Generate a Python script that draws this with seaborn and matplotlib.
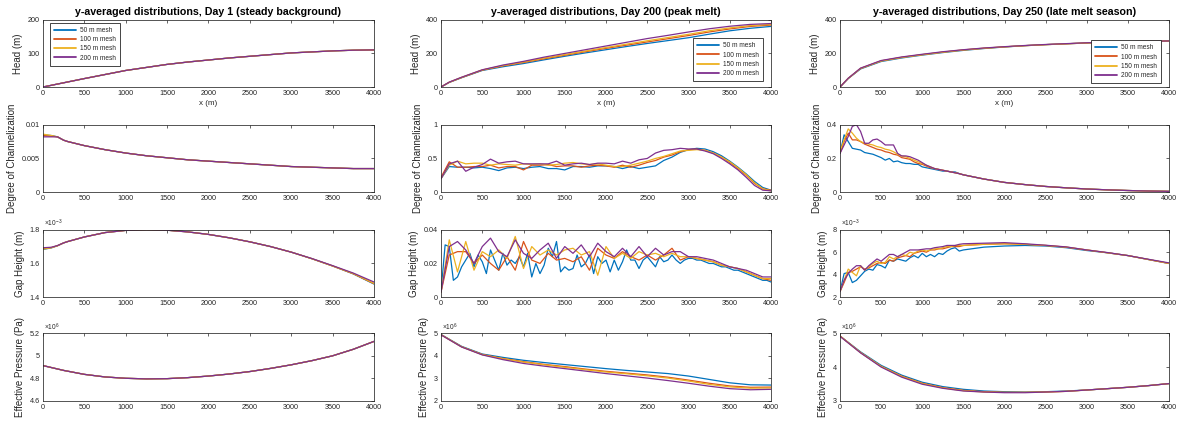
import numpy as np
import matplotlib
matplotlib.use("Agg")
import matplotlib.pyplot as plt
from matplotlib.ticker import FuncFormatter
from matplotlib.lines import Line2D
import seaborn as sns

# ---------------------------------------------------------------- data
MESH_LABELS = ["50 m mesh", "100 m mesh", "150 m mesh", "200 m mesh"]
COLORS = ["#0072BD", "#D95319", "#EDB120", "#7E2F8E"]
TITLES = ["y-averaged distributions, Day 1 (steady background)",
          "y-averaged distributions, Day 200 (peak melt)",
          "y-averaged distributions, Day 250 (late melt season)"]
YLABELS = ["Head (m)", "Degree of Channelization", "Gap Height (m)",
           "Effective Pressure (Pa)"]
XTICKS = [0, 500, 1000, 1500, 2000, 2500, 3000, 3500, 4000]

# sample positions along flow (m)
X_250 = [0, 250, 500, 750, 1000, 1250, 1500, 1750, 2000, 2250, 2500, 2750,
         3000, 3250, 3500, 3750, 4000]
X_HEAD = [0, 100, 250, 500, 750, 1000, 1250, 1500, 1750, 2000, 2250, 2500,
          2750, 3000, 3250, 3500, 3750, 4000]
X_FINE1 = [0, 100, 175, 250, 300, 500, 750, 1000, 1250, 1500, 1750, 2000,
           2250, 2500, 2750, 3000, 3250, 3500, 3750, 4000]
X_100 = np.arange(0, 4001, 100)
X_50 = np.arange(0, 4001, 50)
X_D250 = np.concatenate([np.arange(0, 1500, 50), np.arange(1500, 4001, 250)])

# Day 1 -------------------------------------------------------------
head_d1 = [0, 12.5, 25, 37, 49, 58, 67, 74, 80, 86, 91, 96, 101, 104, 107, 109, 110]

chan_d1_50 = [0.0085, 0.0084, 0.0082, 0.0077, 0.0075, 0.0069, 0.0063, 0.0058, 0.0054,
              0.0051, 0.0048, 0.0046, 0.0044, 0.0042, 0.0040, 0.0038, 0.0037, 0.0036,
              0.0035, 0.0035]
chan_d1_100 = [0.0084, 0.0083, 0.0082, 0.0077, 0.0075, 0.0069, 0.0063, 0.0058, 0.0054,
               0.0051, 0.0048, 0.0046, 0.0044, 0.0042, 0.0040, 0.0038, 0.0037, 0.0036,
               0.0035, 0.0035]
chan_d1_150 = [0.0086, 0.0084, 0.0082, 0.0077, 0.0075, 0.0069, 0.0063, 0.0058, 0.0054,
               0.0051, 0.0048, 0.0046, 0.0044, 0.0042, 0.0040, 0.0038, 0.0037, 0.0036,
               0.0035, 0.0035]
chan_d1_200 = [0.0082, 0.0082, 0.0082, 0.0077, 0.0075, 0.0069, 0.0063, 0.0058, 0.0054,
               0.0051, 0.0048, 0.0046, 0.0044, 0.0042, 0.0040, 0.0038, 0.0037, 0.0036,
               0.0035, 0.0035]

gap_d1_50 = [1.683e-3, 1.692e-3, 1.705e-3, 1.722e-3, 1.730e-3, 1.757e-3, 1.783e-3,
             1.796e-3, 1.800e-3, 1.797e-3, 1.787e-3, 1.772e-3, 1.752e-3, 1.728e-3,
             1.700e-3, 1.667e-3, 1.628e-3, 1.585e-3, 1.538e-3, 1.478e-3]
gap_d1_100 = [1.688e-3, 1.694e-3, 1.705e-3, 1.722e-3, 1.730e-3, 1.757e-3, 1.783e-3,
              1.796e-3, 1.800e-3, 1.797e-3, 1.787e-3, 1.772e-3, 1.752e-3, 1.728e-3,
              1.700e-3, 1.667e-3, 1.628e-3, 1.585e-3, 1.539e-3, 1.480e-3]
gap_d1_150 = [1.685e-3, 1.693e-3, 1.705e-3, 1.722e-3, 1.730e-3, 1.757e-3, 1.783e-3,
              1.796e-3, 1.800e-3, 1.797e-3, 1.787e-3, 1.772e-3, 1.752e-3, 1.728e-3,
              1.700e-3, 1.667e-3, 1.628e-3, 1.585e-3, 1.540e-3, 1.482e-3]
gap_d1_200 = [1.693e-3, 1.696e-3, 1.706e-3, 1.722e-3, 1.730e-3, 1.757e-3, 1.783e-3,
              1.796e-3, 1.800e-3, 1.797e-3, 1.787e-3, 1.772e-3, 1.752e-3, 1.728e-3,
              1.700e-3, 1.667e-3, 1.629e-3, 1.587e-3, 1.543e-3, 1.490e-3]

eff_d1 = [4.913e6, 4.870e6, 4.835e6, 4.812e6, 4.800e6, 4.795e6, 4.797e6, 4.806e6,
          4.820e6, 4.838e6, 4.860e6, 4.888e6, 4.920e6, 4.957e6, 5.000e6, 5.058e6,
          5.128e6]

# Day 200 -----------------------------------------------------------
head_d200_50 = [0, 27, 55, 98, 120, 139, 161, 182, 202, 221, 240, 258, 275, 292, 313, 333, 348, 359]
head_d200_100 = [0, 28, 56, 100, 125, 145, 167, 188, 209, 229, 248, 267, 286, 305, 326, 344, 359, 367]
head_d200_150 = [0, 28, 57, 101, 127, 148, 171, 192, 213, 234, 254, 274, 293, 312, 333, 350, 364, 371]
head_d200_200 = [0, 29, 58, 102, 130, 152, 177, 199, 221, 243, 265, 287, 306, 326, 345, 360, 371, 376]

chan_d200_50 = [0.20, 0.38, 0.37, 0.37, 0.36, 0.37, 0.35, 0.32, 0.36, 0.37,
                0.35, 0.37, 0.38, 0.35, 0.35, 0.33, 0.38, 0.38, 0.37, 0.39,
                0.39, 0.38, 0.35, 0.38, 0.35, 0.37, 0.39, 0.47, 0.52, 0.59,
                0.63, 0.65, 0.64, 0.60, 0.54, 0.46, 0.37, 0.27, 0.16, 0.07,
                0.03]
chan_d200_100 = [0.22, 0.45, 0.37, 0.37, 0.38, 0.38, 0.40, 0.36, 0.38, 0.38,
                 0.33, 0.40, 0.40, 0.41, 0.38, 0.39, 0.39, 0.37, 0.39, 0.40,
                 0.39, 0.37, 0.40, 0.37, 0.40, 0.44, 0.47, 0.52, 0.55, 0.60,
                 0.63, 0.64, 0.62, 0.58, 0.52, 0.44, 0.35, 0.25, 0.13, 0.05,
                 0.03]
chan_d200_150 = [0.20, 0.40, 0.46, 0.42, 0.43, 0.43, 0.40, 0.42, 0.41, 0.40,
                 0.42, 0.41, 0.42, 0.40, 0.41, 0.43, 0.44, 0.42, 0.41, 0.42,
                 0.40, 0.38, 0.38, 0.40, 0.43, 0.46, 0.50, 0.53, 0.57, 0.61,
                 0.62, 0.63, 0.62, 0.58, 0.52, 0.45, 0.36, 0.26, 0.14, 0.05,
                 0.02]
chan_d200_200 = [0.20, 0.42, 0.46, 0.31, 0.37, 0.41, 0.49, 0.43, 0.45, 0.46,
                 0.42, 0.42, 0.42, 0.42, 0.46, 0.40, 0.42, 0.43, 0.41, 0.43,
                 0.43, 0.42, 0.46, 0.43, 0.48, 0.50, 0.58, 0.62, 0.63, 0.65,
                 0.64, 0.64, 0.61, 0.57, 0.50, 0.42, 0.33, 0.22, 0.10, 0.03,
                 0.02]

gap_d200_50 = [0.003, 0.031, 0.030, 0.010, 0.012, 0.018, 0.022, 0.026, 0.018, 0.025,
               0.021, 0.014, 0.028, 0.022, 0.016, 0.026, 0.019, 0.022, 0.020, 0.024,
               0.018, 0.026, 0.012, 0.020, 0.014, 0.019, 0.029, 0.024, 0.033, 0.015,
               0.018, 0.016, 0.017, 0.025, 0.018, 0.020, 0.025, 0.014, 0.024, 0.020,
               0.022, 0.015, 0.022, 0.016, 0.021, 0.028, 0.022, 0.022, 0.017, 0.022,
               0.024, 0.021, 0.018, 0.024, 0.021, 0.022, 0.025, 0.022, 0.020, 0.022,
               0.023, 0.023, 0.022, 0.022, 0.021, 0.020, 0.020, 0.019, 0.018, 0.018,
               0.017, 0.016, 0.016, 0.015, 0.014, 0.013, 0.012, 0.011, 0.010, 0.010,
               0.009]
gap_d200_100 = [0.003, 0.025, 0.027, 0.027, 0.020, 0.025, 0.020, 0.016, 0.024, 0.016,
                0.033, 0.022, 0.020, 0.026, 0.022, 0.023, 0.021, 0.024, 0.016, 0.029,
                0.025, 0.023, 0.027, 0.024, 0.022, 0.025, 0.022, 0.025, 0.029, 0.022,
                0.024, 0.023, 0.022, 0.021, 0.019, 0.018, 0.017, 0.015, 0.013, 0.011,
                0.010]
gap_d200_150 = [0.003, 0.034, 0.015, 0.033, 0.016, 0.027, 0.024, 0.028, 0.023, 0.036,
                0.017, 0.030, 0.025, 0.028, 0.025, 0.028, 0.029, 0.025, 0.027, 0.013,
                0.030, 0.023, 0.026, 0.023, 0.027, 0.025, 0.026, 0.024, 0.026, 0.024,
                0.024, 0.023, 0.022, 0.021, 0.019, 0.018, 0.017, 0.015, 0.013, 0.011,
                0.011]
gap_d200_200 = [0.003, 0.030, 0.033, 0.028, 0.020, 0.030, 0.035, 0.027, 0.024, 0.034,
                0.026, 0.023, 0.028, 0.032, 0.023, 0.030, 0.026, 0.031, 0.024, 0.032,
                0.027, 0.024, 0.029, 0.024, 0.030, 0.024, 0.029, 0.025, 0.027, 0.027,
                0.024, 0.024, 0.023, 0.022, 0.020, 0.018, 0.017, 0.016, 0.014, 0.012,
                0.012]

eff_d200_50 = [4.95e6, 4.42e6, 4.08e6, 3.93e6, 3.80e6, 3.70e6, 3.61e6, 3.52e6, 3.43e6,
               3.35e6, 3.28e6, 3.21e6, 3.10e6, 2.95e6, 2.80e6, 2.71e6, 2.70e6]
eff_d200_100 = [4.94e6, 4.40e6, 4.06e6, 3.88e6, 3.74e6, 3.62e6, 3.52e6, 3.41e6, 3.31e6,
                3.23e6, 3.15e6, 3.05e6, 2.92e6, 2.78e6, 2.66e6, 2.60e6, 2.61e6]
eff_d200_150 = [4.94e6, 4.40e6, 4.05e6, 3.87e6, 3.72e6, 3.60e6, 3.49e6, 3.38e6, 3.28e6,
                3.20e6, 3.11e6, 3.01e6, 2.88e6, 2.73e6, 2.62e6, 2.56e6, 2.57e6]
eff_d200_200 = [4.93e6, 4.39e6, 4.04e6, 3.83e6, 3.66e6, 3.54e6, 3.43e6, 3.32e6, 3.21e6,
                3.11e6, 3.01e6, 2.90e6, 2.78e6, 2.65e6, 2.54e6, 2.49e6, 2.51e6]

# Day 250 -----------------------------------------------------------
head_d250_50 = [0, 50, 107, 151, 172, 189, 204, 217, 228, 237, 245, 251, 256, 261, 265, 268, 271, 273]
head_d250_100 = [0, 51, 110, 155, 176, 192, 207, 220, 230, 238, 245, 251, 256, 261, 265, 268, 271, 273]
head_d250_150 = [0, 51, 110, 154, 175, 191, 206, 219, 229, 238, 245, 251, 256, 261, 265, 268, 271, 273]
head_d250_200 = [0, 52, 112, 157, 178, 194, 209, 221, 231, 239, 246, 252, 257, 262, 266, 269, 271, 273]

chan_d250_50 = [0.23, 0.34, 0.30, 0.26, 0.255, 0.25, 0.235, 0.23, 0.225, 0.215,
                0.205, 0.19, 0.20, 0.18, 0.185, 0.175, 0.17, 0.17, 0.165, 0.165,
                0.15, 0.145, 0.14, 0.135, 0.13, 0.125, 0.125, 0.12, 0.12, 0.11,
                0.103, 0.078, 0.058, 0.045, 0.034, 0.026, 0.019, 0.014, 0.010, 0.007, 0.005]
chan_d250_100 = [0.23, 0.30, 0.35, 0.31, 0.31, 0.30, 0.285, 0.275, 0.265, 0.255,
                 0.25, 0.24, 0.235, 0.225, 0.22, 0.205, 0.20, 0.195, 0.18, 0.17,
                 0.165, 0.155, 0.145, 0.14, 0.135, 0.13, 0.125, 0.12, 0.115, 0.11,
                 0.103, 0.078, 0.058, 0.045, 0.034, 0.026, 0.019, 0.014, 0.010, 0.007, 0.005]
chan_d250_150 = [0.24, 0.31, 0.375, 0.35, 0.32, 0.30, 0.29, 0.285, 0.28, 0.27,
                 0.265, 0.255, 0.25, 0.24, 0.225, 0.215, 0.21, 0.20, 0.19, 0.18,
                 0.17, 0.16, 0.15, 0.14, 0.135, 0.13, 0.125, 0.12, 0.115, 0.11,
                 0.103, 0.078, 0.058, 0.045, 0.034, 0.026, 0.019, 0.014, 0.010, 0.007, 0.005]
chan_d250_200 = [0.23, 0.28, 0.33, 0.39, 0.40, 0.36, 0.29, 0.29, 0.31, 0.315,
                 0.30, 0.28, 0.28, 0.28, 0.23, 0.215, 0.215, 0.21, 0.20, 0.19,
                 0.175, 0.16, 0.15, 0.14, 0.135, 0.13, 0.125, 0.12, 0.115, 0.11,
                 0.103, 0.078, 0.058, 0.045, 0.034, 0.026, 0.019, 0.014, 0.010, 0.007, 0.005]

gap_d250_50 = [2.5e-3, 4.1e-3, 4.2e-3, 3.3e-3, 3.5e-3, 3.9e-3, 4.3e-3, 4.5e-3, 4.4e-3, 4.9e-3,
               4.8e-3, 4.6e-3, 5.3e-3, 5.2e-3, 5.4e-3, 5.3e-3, 5.2e-3, 5.5e-3, 5.7e-3, 5.5e-3,
               5.9e-3, 5.6e-3, 5.8e-3, 5.6e-3, 5.9e-3, 5.8e-3, 6.1e-3, 6.3e-3, 6.4e-3, 6.1e-3,
               6.2e-3, 6.45e-3, 6.55e-3, 6.6e-3, 6.55e-3, 6.4e-3, 6.15e-3, 5.95e-3, 5.7e-3,
               5.35e-3, 5.0e-3]
gap_d250_100 = [2.5e-3, 3.3e-3, 4.2e-3, 4.3e-3, 4.5e-3, 4.7e-3, 4.5e-3, 4.6e-3, 4.8e-3, 5.0e-3,
                5.1e-3, 5.0e-3, 5.3e-3, 5.2e-3, 5.5e-3, 5.6e-3, 5.7e-3, 5.6e-3, 5.9e-3, 6.0e-3,
                6.1e-3, 6.0e-3, 6.2e-3, 6.2e-3, 6.3e-3, 6.3e-3, 6.4e-3, 6.5e-3, 6.5e-3, 6.5e-3,
                6.6e-3, 6.7e-3, 6.75e-3, 6.7e-3, 6.6e-3, 6.45e-3, 6.2e-3, 5.95e-3, 5.7e-3,
                5.35e-3, 5.0e-3]
gap_d250_150 = [2.5e-3, 3.5e-3, 4.5e-3, 4.2e-3, 3.9e-3, 4.8e-3, 4.4e-3, 4.7e-3, 5.0e-3, 5.2e-3,
                5.0e-3, 5.1e-3, 5.6e-3, 5.4e-3, 5.6e-3, 5.8e-3, 5.7e-3, 6.0e-3, 5.9e-3, 6.1e-3,
                6.2e-3, 6.1e-3, 6.2e-3, 6.3e-3, 6.3e-3, 6.4e-3, 6.5e-3, 6.5e-3, 6.6e-3, 6.6e-3,
                6.6e-3, 6.7e-3, 6.75e-3, 6.7e-3, 6.6e-3, 6.45e-3, 6.2e-3, 5.95e-3, 5.7e-3,
                5.35e-3, 5.0e-3]
gap_d250_200 = [2.5e-3, 3.5e-3, 4.1e-3, 4.5e-3, 4.8e-3, 4.8e-3, 4.4e-3, 4.8e-3, 5.1e-3, 5.4e-3,
                5.2e-3, 5.5e-3, 5.8e-3, 5.8e-3, 5.6e-3, 5.8e-3, 6.0e-3, 6.2e-3, 6.2e-3, 6.2e-3,
                6.25e-3, 6.3e-3, 6.3e-3, 6.4e-3, 6.45e-3, 6.5e-3, 6.6e-3, 6.6e-3, 6.6e-3, 6.7e-3,
                6.75e-3, 6.8e-3, 6.85e-3, 6.75e-3, 6.62e-3, 6.47e-3, 6.2e-3, 5.97e-3, 5.7e-3,
                5.37e-3, 5.05e-3]

eff_d250_50 = [4.92e6, 4.45e6, 4.05e6, 3.76e6, 3.55e6, 3.42e6, 3.34e6, 3.29e6, 3.27e6,
               3.26e6, 3.27e6, 3.29e6, 3.32e6, 3.36e6, 3.40e6, 3.45e6, 3.51e6]
eff_d250_100 = [4.92e6, 4.43e6, 4.02e6, 3.73e6, 3.52e6, 3.39e6, 3.31e6, 3.27e6, 3.25e6,
                3.25e6, 3.26e6, 3.28e6, 3.32e6, 3.36e6, 3.40e6, 3.45e6, 3.51e6]
eff_d250_150 = [4.92e6, 4.43e6, 4.02e6, 3.72e6, 3.51e6, 3.38e6, 3.30e6, 3.26e6, 3.25e6,
                3.25e6, 3.26e6, 3.28e6, 3.32e6, 3.36e6, 3.40e6, 3.45e6, 3.51e6]
eff_d250_200 = [4.91e6, 4.42e6, 4.00e6, 3.70e6, 3.49e6, 3.37e6, 3.29e6, 3.26e6, 3.24e6,
                3.24e6, 3.26e6, 3.28e6, 3.32e6, 3.36e6, 3.40e6, 3.45e6, 3.51e6]

# ---------------------------------------------------------------- style
sns.set_theme(style="white")
plt.rcParams["font.family"] = ["Liberation Sans", "DejaVu Sans"]
plt.rcParams["mathtext.fontset"] = "custom"
plt.rcParams["mathtext.rm"] = "Liberation Sans"
plt.rcParams["mathtext.it"] = "Liberation Sans:italic"
INK = "#262626"
LW = 0.9

W, H = 1184, 424
fig = plt.figure(figsize=(W / 100, H / 100), dpi=100)
COL_L = [43, 441, 840]
COL_W = [331, 330, 329]
ROW_T = [19.5, 124.7, 229.7, 333.3]
ROW_H = 67.5


def make_axes(r, c):
    return fig.add_axes([COL_L[c] / W, 1 - (ROW_T[r] + ROW_H) / H,
                         COL_W[c] / W, ROW_H / H])


def draw_panel(ax, series, ylim, yticks, scale=1.0, power=None):
    for (xs, ys), color in zip(series, COLORS):
        sns.lineplot(x=np.asarray(xs, float), y=np.asarray(ys, float), ax=ax,
                     color=color, linewidth=LW, estimator=None, sort=False,
                     legend=False)
    ax.set_xlim(0, 4000)
    ax.set_ylim(ylim[0] * scale, ylim[1] * scale)
    ax.set_xticks(XTICKS)
    ax.set_yticks([t * scale for t in yticks])
    ax.yaxis.set_major_formatter(FuncFormatter(lambda v, p: f"{v / scale:g}"))
    ax.set_xlabel("")
    ax.tick_params(direction="in", top=True, right=True, length=2.3, width=0.5,
                   labelsize=5.2, pad=2.2, color=INK, labelcolor=INK)
    for sp in ax.spines.values():
        sp.set_linewidth(0.55)
        sp.set_color(INK)
    if power is not None:
        ax.text(0.004, 1.01, r"$\times10^{%d}$" % power, transform=ax.transAxes,
                fontsize=4.8, ha="left", va="bottom", color=INK)


panels = [
    # Day 1
    [([(X_250, head_d1)] * 4, (0, 200), [0, 100, 200], 1.0, None),
     ([(X_FINE1, chan_d1_50), (X_FINE1, chan_d1_100), (X_FINE1, chan_d1_150),
       (X_FINE1, chan_d1_200)], (0, 0.01), [0, 0.005, 0.01], 1.0, None),
     ([(X_FINE1, gap_d1_50), (X_FINE1, gap_d1_100), (X_FINE1, gap_d1_150),
       (X_FINE1, gap_d1_200)], (1.4, 1.8), [1.4, 1.6, 1.8], 1e-3, -3),
     ([(X_250, eff_d1)] * 4, (4.6, 5.2), [4.6, 4.8, 5, 5.2], 1e6, 6)],
    # Day 200
    [([(X_HEAD, head_d200_50), (X_HEAD, head_d200_100), (X_HEAD, head_d200_150),
       (X_HEAD, head_d200_200)], (0, 400), [0, 200, 400], 1.0, None),
     ([(X_100, chan_d200_50), (X_100, chan_d200_100), (X_100, chan_d200_150),
       (X_100, chan_d200_200)], (0, 1), [0, 0.5, 1], 1.0, None),
     ([(X_50, gap_d200_50), (X_100, gap_d200_100), (X_100, gap_d200_150),
       (X_100, gap_d200_200)], (0, 0.04), [0, 0.02, 0.04], 1.0, None),
     ([(X_250, eff_d200_50), (X_250, eff_d200_100), (X_250, eff_d200_150),
       (X_250, eff_d200_200)], (2, 5), [2, 3, 4, 5], 1e6, 6)],
    # Day 250
    [([(X_HEAD, head_d250_50), (X_HEAD, head_d250_100), (X_HEAD, head_d250_150),
       (X_HEAD, head_d250_200)], (0, 400), [0, 200, 400], 1.0, None),
     ([(X_D250, chan_d250_50), (X_D250, chan_d250_100), (X_D250, chan_d250_150),
       (X_D250, chan_d250_200)], (0, 0.4), [0, 0.2, 0.4], 1.0, None),
     ([(X_D250, gap_d250_50), (X_D250, gap_d250_100), (X_D250, gap_d250_150),
       (X_D250, gap_d250_200)], (2, 8), [2, 4, 6, 8], 1e-3, -3),
     ([(X_250, eff_d250_50), (X_250, eff_d250_100), (X_250, eff_d250_150),
       (X_250, eff_d250_200)], (3, 5), [3, 4, 5], 1e6, 6)],
]

legend_places = [
    dict(loc="upper left", bbox_to_anchor=(7 / 331, 1 - 3.5 / ROW_H)),
    dict(loc="lower right", bbox_to_anchor=(1 - 8 / 330, 6 / ROW_H)),
    dict(loc="lower right", bbox_to_anchor=(1 - 8 / 329, 4 / ROW_H)),
]

for c in range(3):
    for r in range(4):
        ax = make_axes(r, c)
        series, ylim, yticks, scale, power = panels[c][r]
        draw_panel(ax, series, ylim, yticks, scale, power)
        ax.set_ylabel(YLABELS[r], fontsize=7, labelpad=3.5, color=INK)
        if r == 0:
            ax.set_title(TITLES[c], fontsize=7.7, fontweight="bold", pad=3.5,
                         color="black")
            ax.set_xlabel("x (m)", fontsize=5.8, labelpad=2, color=INK)
            handles = [Line2D([0], [0], color=col, lw=1.3) for col in COLORS]
            leg = ax.legend(handles, MESH_LABELS, fontsize=4.7, frameon=True,
                            fancybox=False, framealpha=1, edgecolor=INK,
                            borderaxespad=0, borderpad=0.6, handlelength=3.4,
                            handletextpad=0.6, labelspacing=0.35,
                            **legend_places[c])
            leg.get_frame().set_linewidth(0.6)

fig.savefig("out.png", dpi=100)
